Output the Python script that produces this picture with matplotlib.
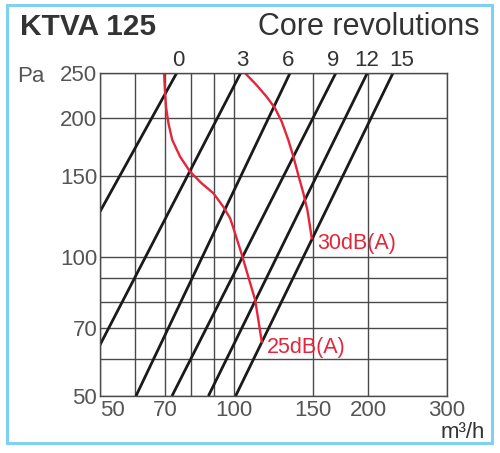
import matplotlib
matplotlib.use("Agg")
import matplotlib.pyplot as plt
from matplotlib.patches import Rectangle

plt.rcParams['font.family'] = ['Liberation Sans', 'DejaVu Sans']

# grid / ticks
x_grid = [50, 60, 70, 80, 90, 100, 150, 200, 300]
x_labels = ['50', '', '70', '', '', '100', '150', '200', '300']
y_grid = [50, 60, 70, 80, 90, 100, 150, 200, 250]
y_labels = ['50', '', '70', '', '', '100', '150', '200', '250']

# core revolution lines (straight on log-log), two end points each
rev_names = ['0', '3', '6', '9', '12', '15']
rev_q_start = [50, 50, 60.2, 72.5, 87.5, 100.7]
rev_p_start = [125.3, 64.5, 50, 50, 50, 50]
rev_q_end = [74.3, 103.4, 133.4, 169, 198.8, 227]
rev_p_end = [250, 250, 250, 250, 250, 250]
rev_label_q = [75, 104, 132, 166.5, 198.6, 237]

# sound level curves
db30_q = [105.7, 112.3, 118.2, 123.4, 127.8, 132.2, 135.7, 139.2, 142.9, 145.9, 147.9, 149.2]
db30_p = [250, 235.2, 222.1, 209.9, 196.1, 179.1, 164.8, 150.4, 137.3, 126.2, 116.2, 109.7]
db25_q = [69.6, 69.9, 70.3, 71.2, 72.6, 75.6, 79.6, 84.5, 89.8, 94.5, 97.9, 99.6,
          103.9, 107.6, 111.4, 115.3]
db25_p = [250, 229.8, 211.3, 194.5, 179.1, 164.8, 152.9, 144.3, 137.3, 128.4, 121.2, 115.3,
          101.4, 90.4, 80.7, 65.5]

red = '#e3263a'
gray = '#555555'
dark = '#333333'

fig = plt.figure(figsize=(5.0, 4.53), dpi=100)
ax = fig.add_axes([0.2, 0.1258, 0.694, 0.7131])
ax.set_xscale('log')
ax.set_yscale('log')
ax.set_xlim(50, 300)
ax.set_ylim(50, 250)
ax.minorticks_off()
ax.set_xticks(x_grid)
ax.set_xticklabels(x_labels)
ax.set_yticks(y_grid)
ax.set_yticklabels(y_labels)
ax.tick_params(length=0, labelsize=16, labelcolor=gray)
ax.tick_params(axis='x', pad=3)
ax.tick_params(axis='y', pad=2)
ax.get_xticklabels()[0].set_ha('left')
ax.grid(True, color='#4a4a4a', lw=1.0)
for s in ax.spines.values():
    s.set_color('#4a4a4a')
    s.set_linewidth(1.0)

for i in range(len(rev_names)):
    ax.plot([rev_q_start[i], rev_q_end[i]], [rev_p_start[i], rev_p_end[i]],
            color='#1a1a1a', lw=2.0, solid_capstyle='butt')
    ax.text(rev_label_q[i], 252, rev_names[i], ha='center', va='bottom',
            fontsize=16, color=dark)

ax.plot(db30_q, db30_p, color=red, lw=1.7, solid_joinstyle='round')
ax.plot(db25_q, db25_p, color=red, lw=1.7, solid_joinstyle='round')
ax.annotate('30dB(A)', (db30_q[-1], db30_p[-1]), xytext=(4, -4),
            textcoords='offset points', ha='left', va='center',
            fontsize=15.5, color=red)
ax.annotate('25dB(A)', (db25_q[-1], db25_p[-1]), xytext=(4, -4),
            textcoords='offset points', ha='left', va='center',
            fontsize=15.5, color=red)

fig.text(0.034, 1 - 76 / 453, 'Pa', ha='left', va='center', fontsize=16, color=gray)
fig.text(0.04, 1 - 27 / 453, 'KTVA 125', ha='left', va='center',
         fontsize=21.5, weight='bold', color=dark)
fig.text(0.96, 1 - 27 / 453, 'Core revolutions', ha='right', va='center',
         fontsize=22, color=dark)
fig.text(0.97, 1 - 432 / 453, 'm³/h', ha='right', va='center',
         fontsize=16, color=dark)

fig.patches.append(Rectangle((7 / 500, 1 - 443 / 453), 485 / 500, 438 / 453,
                             transform=fig.transFigure, fill=False,
                             edgecolor='#80d0f2', lw=2.2))

fig.savefig('out.png', dpi=100)
